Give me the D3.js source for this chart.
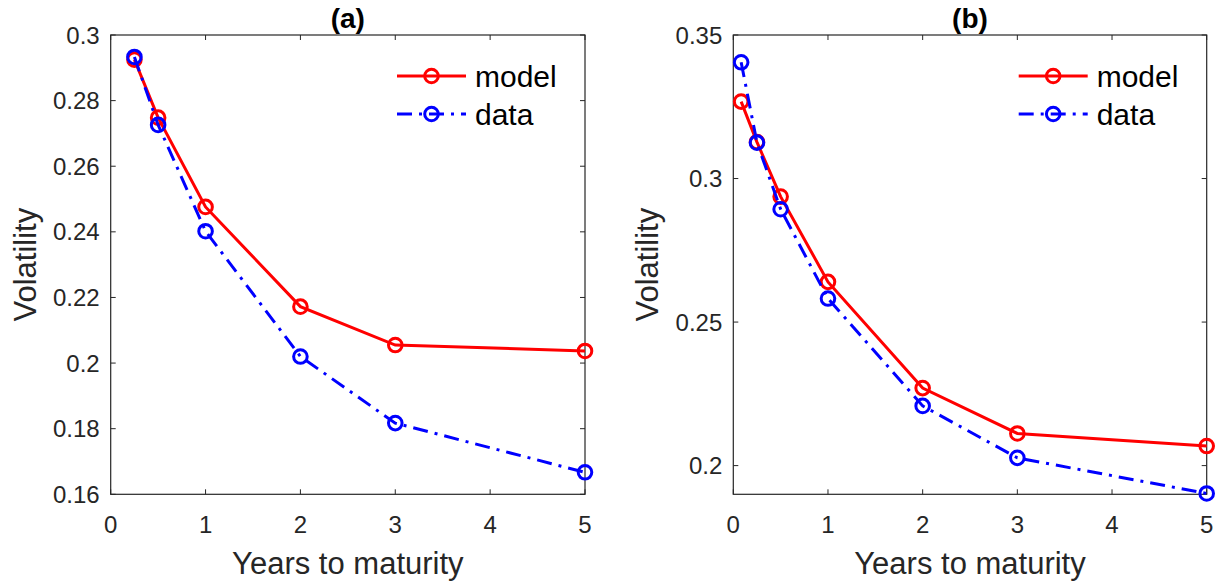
<!DOCTYPE html>
<html><head><meta charset="utf-8">
<script src="https://cdn.jsdelivr.net/npm/d3@7"></script>
<style>body{margin:0;background:#fff}svg{font-family:"Liberation Sans",Arial,sans-serif}</style>
</head><body><svg id="c" width="1225" height="583"></svg>
<script>
const maturitiesA = [0.25, 0.5, 1, 2, 3, 5];
const modelA = [0.2925, 0.2748, 0.2476, 0.2172, 0.2055, 0.2037];
const dataA  = [0.2933, 0.2726, 0.2402, 0.2020, 0.1817, 0.1667];
const maturitiesB = [0.083, 0.25, 0.5, 1, 2, 3, 5];
const modelB = [0.3268, 0.3127, 0.2937, 0.2640, 0.2270, 0.2112, 0.2068];
const dataB  = [0.3405, 0.3125, 0.2893, 0.2582, 0.2208, 0.2027, 0.1903];
const xTicks = [0, 1, 2, 3, 4, 5];
const yTicksA = [0.16, 0.18, 0.2, 0.22, 0.24, 0.26, 0.28, 0.3];
const yTicksB = [0.2, 0.25, 0.3, 0.35];
const titles = ["(a)", "(b)"];
const seriesNames = ["model", "data"];

const svg = d3.select("#c");
const axisColor = "#262626";

function panel(opt) {
  const {left, right, top, bottom, xs, m, d, yDomain, yTicks, title, yFmt} = opt;
  const x = d3.scaleLinear().domain([0, 5]).range([left, right]);
  const y = d3.scaleLinear().domain(yDomain).range([bottom, top]);
  const g = svg.append("g");
  g.append("rect").attr("x", left).attr("y", top).attr("width", right - left).attr("height", bottom - top)
    .attr("fill", "none").attr("stroke", axisColor).attr("stroke-width", 1.2);
  const tl = 5;
  xTicks.forEach(t => {
    g.append("line").attr("x1", x(t)).attr("x2", x(t)).attr("y1", bottom).attr("y2", bottom - tl).attr("stroke", axisColor);
    g.append("line").attr("x1", x(t)).attr("x2", x(t)).attr("y1", top).attr("y2", top + tl).attr("stroke", axisColor);
    g.append("text").attr("x", x(t)).attr("y", bottom + 39).attr("text-anchor", "middle")
      .attr("font-size", 24).attr("fill", axisColor).text(d3.format("d")(t));
  });
  yTicks.forEach(t => {
    g.append("line").attr("x1", left).attr("x2", left + tl).attr("y1", y(t)).attr("y2", y(t)).attr("stroke", axisColor);
    g.append("line").attr("x1", right).attr("x2", right - tl).attr("y1", y(t)).attr("y2", y(t)).attr("stroke", axisColor);
    g.append("text").attr("x", left - 11).attr("y", y(t)).attr("dy", "0.36em").attr("text-anchor", "end")
      .attr("font-size", 24).attr("fill", axisColor).text(yFmt(t));
  });
  g.append("text").attr("x", (left + right) / 2).attr("y", 28).attr("text-anchor", "middle")
    .attr("font-size", 28).attr("font-weight", "bold").attr("fill", "#000").text(title);
  g.append("text").attr("x", (left + right) / 2).attr("y", 574).attr("text-anchor", "middle")
    .attr("font-size", 31).attr("fill", axisColor).text("Years to maturity");
  g.append("text").attr("transform", `translate(${left - 75},${(top + bottom) / 2}) rotate(-90)`)
    .attr("text-anchor", "middle").attr("font-size", 31).attr("fill", axisColor).text("Volatility");

  const line = d3.line().x(p => x(p[0])).y(p => y(p[1]));
  const specs = [
    {vals: m, color: "#ff0000", dash: null},
    {vals: d, color: "#0000ff", dash: "15,7,3,7"}
  ];
  specs.forEach(s => {
    const pts = xs.map((v, i) => [v, s.vals[i]]);
    g.append("path").attr("d", line(pts)).attr("fill", "none").attr("stroke", s.color)
      .attr("stroke-width", 3).attr("stroke-dasharray", s.dash);
    g.selectAll(null).data(pts).enter().append("circle")
      .attr("cx", p => x(p[0])).attr("cy", p => y(p[1])).attr("r", 6.8)
      .attr("fill", "none").attr("stroke", s.color).attr("stroke-width", 3);
  });
  const lx0 = right - 188, lx1 = right - 119, tx = right - 110;
  specs.forEach((s, i) => {
    const ly = 76 + i * 38;
    g.append("line").attr("x1", lx0).attr("x2", lx1).attr("y1", ly).attr("y2", ly)
      .attr("stroke", s.color).attr("stroke-width", 3).attr("stroke-dasharray", s.dash);
    g.append("circle").attr("cx", (lx0 + lx1) / 2).attr("cy", ly).attr("r", 6.8)
      .attr("fill", "none").attr("stroke", s.color).attr("stroke-width", 3);
    g.append("text").attr("x", tx).attr("y", ly).attr("dy", "0.36em").attr("font-size", 30)
      .attr("fill", "#000").text(seriesNames[i]);
  });
}

const fmt = v => String(+v.toFixed(3));
panel({left: 110.7, right: 585, top: 35, bottom: 494.3, xs: maturitiesA, m: modelA, d: dataA,
  yDomain: [0.16, 0.3], yTicks: yTicksA, title: titles[0], yFmt: fmt});
panel({left: 733.3, right: 1206.7, top: 35, bottom: 494.3, xs: maturitiesB, m: modelB, d: dataB,
  yDomain: [0.19, 0.35], yTicks: yTicksB, title: titles[1], yFmt: fmt});
</script></body></html>
